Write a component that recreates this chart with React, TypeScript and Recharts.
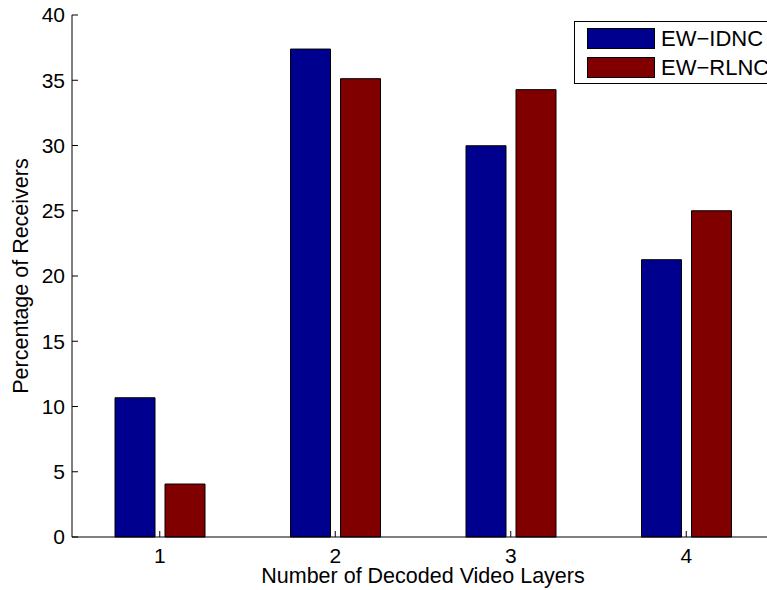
import React from 'react';
import { BarChart, Bar, XAxis, YAxis, Legend } from 'recharts';

const layers = ['1', '2', '3', '4'];
const ewIdnc = [10.67, 37.39, 29.98, 21.25];
const ewRlnc = [4.06, 35.12, 34.28, 25.0];
const yTicks = [0, 5, 10, 15, 20, 25, 30, 35, 40];
const seriesNames = ['EW\u2212IDNC', 'EW\u2212RLNC'];
const seriesColors = ['#00008F', '#800000'];

const data = layers.map((l, i) => ({ layer: l, idnc: ewIdnc[i], rlnc: ewRlnc[i] }));

const FONT = '"Liberation Sans", Arial, Helvetica, sans-serif';

const renderLegend = (props: any) => {
  const payload = props.payload || [];
  return (
    <div
      style={{
        border: '1px solid #000',
        background: '#fff',
        width: 194,
        height: 61,
        boxSizing: 'content-box',
        position: 'relative',
        fontFamily: FONT,
      }}
    >
      {payload.map((p: any, i: number) => (
        <div
          key={i}
          style={{ position: 'absolute', left: 12, top: 6 + i * 28.7, height: 21, display: 'flex', alignItems: 'center' }}
        >
          <div style={{ width: 66, height: 19, background: p.color, border: '1px solid #000' }} />
          <span style={{ marginLeft: 6, fontSize: 22, color: '#000', lineHeight: '21px', whiteSpace: 'nowrap' }}>{p.value}</span>
        </div>
      ))}
    </div>
  );
};

export default function App() {
  return (
    <div style={{ position: 'fixed', left: 0, top: 0, width: 767, height: 590, overflow: 'hidden', background: '#fff' }}>
      <BarChart
        width={800}
        height={590}
        data={data}
        margin={{ top: 15, right: 26, bottom: 0, left: 0 }}
        barSize={40}
        barGap={10}
      >
        <XAxis
          dataKey="layer"
          height={53}
          axisLine={{ stroke: '#000', strokeWidth: 1 }}
          tickLine={{ stroke: '#000' }}
          tickSize={-6}
          tickMargin={17}
          tick={{ fill: '#000', fontSize: 21, fontFamily: FONT }}
          label={{ value: 'Number of Decoded Video Layers', position: 'insideBottom', offset: 7, fill: '#000', fontSize: 21.5, fontFamily: FONT }}
        />
        <XAxis
          xAxisId="top"
          dataKey="layer"
          orientation="top"
          height={0}
          axisLine={{ stroke: '#000', strokeWidth: 1 }}
          tickLine={{ stroke: '#000' }}
          tickSize={-6}
          tick={false}
        />
        <YAxis
          width={72}
          domain={[0, 40]}
          ticks={yTicks}
          interval={0}
          axisLine={{ stroke: '#000', strokeWidth: 1 }}
          tickLine={{ stroke: '#000' }}
          tickSize={-6}
          tickMargin={13}
          tick={{ fill: '#000', fontSize: 21, fontFamily: FONT }}
          label={{ value: 'Percentage of Receivers', angle: -90, position: 'insideLeft', offset: 20, fill: '#000', fontSize: 21.5, fontFamily: FONT, style: { textAnchor: 'middle' } }}
        />
        <Legend
          layout="vertical"
          align="center"
          verticalAlign="middle"
          content={renderLegend}
          wrapperStyle={{ position: 'absolute', left: 574, top: 21, width: 196, height: 63 }}
        />
        <Bar dataKey="idnc" name={seriesNames[0]} fill={seriesColors[0]} stroke="#000" strokeWidth={1} isAnimationActive={false} />
        <Bar dataKey="rlnc" name={seriesNames[1]} fill={seriesColors[1]} stroke="#000" strokeWidth={1} isAnimationActive={false} />
      </BarChart>
    </div>
  );
}
